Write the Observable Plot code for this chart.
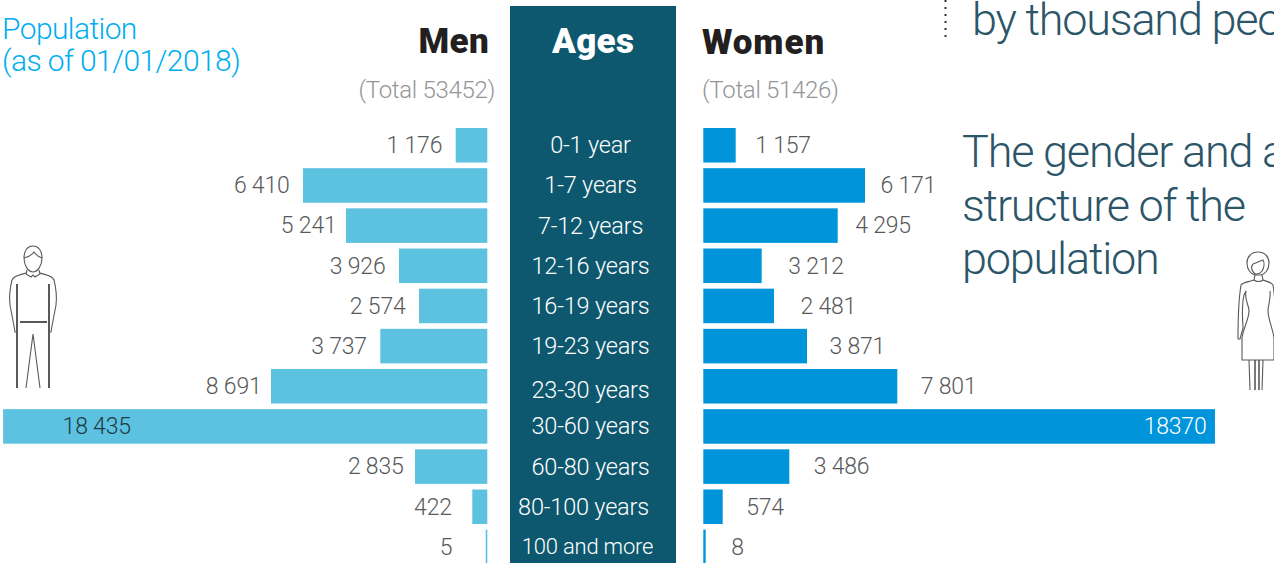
<!DOCTYPE html>
<html>
<head>
<meta charset="utf-8">
<script src="https://cdn.jsdelivr.net/npm/d3@7"></script>
<script src="https://cdn.jsdelivr.net/npm/@observablehq/plot@0.6"></script>
<style>
  html,body{margin:0;padding:0;background:#fff;overflow:hidden;width:1274px;height:563px;}
  #stage{position:relative;width:1274px;height:563px;overflow:hidden;font-family:Roboto,sans-serif;}
  #stage svg{position:absolute;left:0;top:0;background:transparent;}
  .t{position:absolute;white-space:nowrap;line-height:1;}
  #band{position:absolute;left:510px;top:6px;width:166px;height:557px;background:#0d586e;}
  .head{font-weight:900;font-size:35px;color:#231f20;letter-spacing:.3px;}
  .total{font-weight:300;font-size:24px;color:#939598;letter-spacing:-.3px;}
  .big{font-weight:300;font-size:45px;color:#2b5568;letter-spacing:-1.2px;}
  .pop{font-weight:300;font-size:30px;color:#00aeef;letter-spacing:-.6px;}
  #chart text{letter-spacing:-.2px;}
</style>
</head>
<body>
<div id="stage">
  <div id="band"></div>
  <div id="chart"></div>
  <div class="t pop" style="left:2px;top:14px">Population</div>
  <div class="t pop" style="left:2px;top:46px">(as of 01/01/2018)</div>
  <div class="t head" style="right:785px;top:24px">Men</div>
  <div class="t head" style="left:552px;top:24px;color:#fff">Ages</div>
  <div class="t head" style="left:702px;top:25px;letter-spacing:.9px">Women</div>
  <div class="t total" style="right:779px;top:78px">(Total 53452)</div>
  <div class="t total" style="left:702px;top:78px">(Total 51426)</div>
  <div class="t big" style="left:972px;top:-3px">by thousand people</div>
  <div class="t big" style="left:962px;top:129px">The gender and age</div>
  <div class="t big" style="left:962px;top:183px">structure of the</div>
  <div class="t big" style="left:962px;top:236px">population</div>
  <svg width="1274" height="563" style="pointer-events:none">
    <line x1="945.5" y1="0" x2="945.5" y2="39" stroke="#333" stroke-width="2" stroke-dasharray="2 5"/>
    <g fill="none" stroke="#58595b" stroke-width="1.1">
      <path d="M24 258c0-8 4-12 9-12s9 4 9 12c0 7-4 14-9 14s-9-7-9-14z"/>
      <path d="M24 258c4-1 8-3 10-6 2 3 5 5 8 6"/>
      <path d="M27 270l-1 4 5 3 2-2 2 2 5-3-1-4"/>
      <path d="M26 273c-5 2-12 2-14 7-2 8-3 17-2 25l4 21 1 6h2"/>
      <path d="M40 273c5 2 12 2 14 7 2 8 3 17 2 25l-4 21-1 6h-2"/>
      <path d="M26 388l7-54 7 54"/>
      <g stroke-width="2"><path d="M17 284v104M49 284v104M20 322h27"/></g>
    </g>
    <g fill="none" stroke="#58595b" stroke-width="1.1">
      <path d="M1258 252c7 0 11 5 11 11 0 7-4 11-8 12h-6c-4-1-8-5-8-12 0-6 4-11 11-11z"/>
      <path d="M1254 273c-3-3-3-7-1-9 3-1 7-3 10-4 2 3 1 8-1 11-2 3-6 4-8 2z"/>
      <path d="M1255 275l-1 5c2 2 7 2 9 0l-1-5"/>
      <path d="M1254 280c-5 2-11 2-13 5-2 12-3 30-3 54h2l3-11c0-5-2-20 1-33l2-4"/>
      <path d="M1263 280c5 2 8 2 10 5 2 12 3 30 3 54"/>
      <path d="M1246 291c-2 8 3 14 3 20 0 8-6 18-7 27v22h32v-22c-1-9-6-19-6-27 0-6 3-12 2-20"/>
      <path d="M1249 360l1 30M1263 360l-1 30"/>
      <path d="M1255 360v30M1259 360v30" stroke-width="1.6"/>
    </g>
  </svg>
</div>
<script>
const ages = ["0-1 year","1-7 years","7-12 years","12-16 years","16-19 years","19-23 years","23-30 years","30-60 years","60-80 years","80-100 years","100 and more"];
const menLabels = ["1 176","6 410","5 241","3 926","2 574","3 737","8 691","18 435","2 835","422","5"];
const womenLabels = ["1 157","6 171","4 295","3 212","2 481","3 871","7 801","18370","3 486","574","8"];
// bar lengths (the source's bars do not follow its labels exactly)
const menBars = [1203,7016,5379,3362,2600,4073,8235,18435,2752,571,61];
const womenBars = [1233,6156,5117,2223,2692,3948,7386,19480,3274,739,91];
const womenBase = 8223;
const agesCenter = 3910;

const men = ages.map((age,i)=>({age,label:menLabels[i],x:-menBars[i]}));
const women = ages.map((age,i)=>({age,label:womenLabels[i],x1:womenBase,x2:womenBase+womenBars[i]}));
const ageRows = ages.map(age=>({age}));

const font = {fontFamily:"Roboto, sans-serif",fontWeight:300,fontVariant:"normal"};
const valueStyle = {...font,fontSize:23,fill:"#58595b",lineAnchor:"middle",dy:0};

const menText = (rows,dx,opts={}) => Plot.text(men.filter(d=>rows.includes(d.label)),
  {x:"x",y:"age",text:"label",textAnchor:"end",dx:-dx,...valueStyle,...opts});
const womenText = (rows,dx,opts={}) => Plot.text(women.filter(d=>rows.includes(d.label)),
  {x:"x2",y:"age",text:"label",textAnchor:"start",dx,...valueStyle,...opts});
const ageText = (rows,dx,dy,size=23.5) => Plot.text(ageRows.filter(d=>rows.includes(d.age)),
  {x:()=>agesCenter,y:"age",text:"age",dx,dy,...font,fontSize:size,fill:"#fff",lineAnchor:"middle"});

const plot = Plot.plot({
  width:1274,height:563,margin:0,
  style:{background:"transparent",overflow:"hidden"},
  x:{axis:null,domain:[-18552,29950],range:[0,1274]},
  y:{axis:null,type:"band",domain:ages,range:[128,564.2],paddingInner:0.14,paddingOuter:0,align:0,round:false},
  marks:[
    Plot.barX(men,{x1:()=>0,x2:"x",y:"age",fill:"#5dc2e0"}),
    Plot.barX(women,{x1:"x1",x2:"x2",y:"age",fill:"#0095db"}),
    menText(["1 176","6 410","3 926","2 574","3 737"],14),
    menText(["5 241","8 691"],10),
    menText(["2 835"],12),
    menText(["422"],21),
    menText(["5"],34),
    Plot.text(men.filter(d=>d.label==="18 435"),{x:"x",y:"age",text:"label",textAnchor:"start",dx:59,...valueStyle,fill:"#1f3a44"}),
    womenText(["1 157"],19),
    womenText(["6 171"],15),
    womenText(["4 295"],17),
    womenText(["3 212","2 481"],26),
    womenText(["8"],25),
    womenText(["3 486"],24),
    womenText(["3 871"],22),
    womenText(["7 801","574"],23),
    Plot.text(women.filter(d=>d.label==="18370"),{x:"x2",y:"age",text:"label",textAnchor:"end",dx:-9,...valueStyle,fill:"#fff"}),
    ageText(["0-1 year","1-7 years","7-12 years","12-16 years","16-19 years","19-23 years","30-60 years","60-80 years"],0,0),
    ageText(["23-30 years"],0,4),
    ageText(["80-100 years"],-7,0),
    ageText(["100 and more"],-3,0,22)
  ]
});
document.getElementById("chart").append(plot);
</script>
</body>
</html>
